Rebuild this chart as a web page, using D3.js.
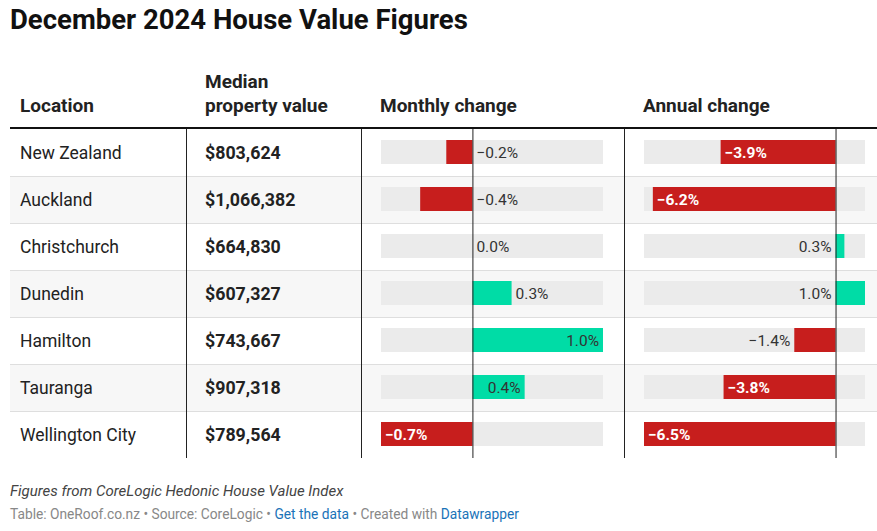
<!DOCTYPE html>
<html><head><meta charset="utf-8">
<script src="https://cdn.jsdelivr.net/npm/d3@7"></script>
<style>
body{margin:0;background:#fff;font-family:Roboto,"Noto Sans",sans-serif;}
svg text{font-family:Roboto,"Noto Sans",sans-serif;}
</style></head><body>
<svg id="c" width="877" height="531"></svg>
<script>
const locations = ["New Zealand","Auckland","Christchurch","Dunedin","Hamilton","Tauranga","Wellington City"];
const medianValues = [803624,1066382,664830,607327,743667,907318,789564];
const monthlyChange = [-0.2,-0.4,0.0,0.3,1.0,0.4,-0.7];
const annualChange = [-3.9,-6.2,0.3,1.0,-1.4,-3.8,-6.5];
const headers = ["Location",["Median","property value"],"Monthly change","Annual change"];

const svg = d3.select("#c");
const W = 877, rowTop = 129, rowH = 47, n = locations.length;
const yRow = d3.scaleBand().domain(d3.range(n)).range([rowTop, rowTop + rowH*n]).padding(0);
const xM = d3.scaleLinear().domain([-0.7, 1.0]).range([381, 603]);
const xA = d3.scaleLinear().domain([-6.5, 1.0]).range([644, 865]);
const fmtPct = v => d3.format(".1f")(v) + "%";
const fmtMoney = d3.format("$,");
const red = "#c71e1d", green = "#00dca6", track = "#ebebeb";

// title
svg.append("text").attr("x",10).attr("y",29).attr("font-size",27.5).attr("font-weight",700).attr("fill","#111")
  .text("December 2024 House Value Figures");

// header
const hg = svg.append("g").attr("font-size",19).attr("font-weight",700).attr("fill","#222");
hg.append("text").attr("x",20).attr("y",112).text(headers[0]);
hg.append("text").attr("x",205).attr("y",88).text(headers[1][0]);
hg.append("text").attr("x",205).attr("y",112).text(headers[1][1]);
hg.append("text").attr("x",380).attr("y",112).text(headers[2]);
hg.append("text").attr("x",643).attr("y",112).text(headers[3]);

// row backgrounds
svg.append("g").selectAll("rect").data(d3.range(n)).join("rect")
  .attr("x",10).attr("width",W-10).attr("y",i=>yRow(i)).attr("height",yRow.bandwidth())
  .attr("fill",i=> i%2 ? "#f7f7f7" : "#fff");
// separators
svg.append("g").selectAll("line").data(d3.range(1,n)).join("line")
  .attr("x1",10).attr("x2",W).attr("y1",i=>yRow(i)+0.5).attr("y2",i=>yRow(i)+0.5)
  .attr("stroke","#dedede");

// text columns
const tg = svg.append("g").attr("font-size",17.5).attr("fill","#222");
tg.selectAll("text.loc").data(locations).join("text").attr("class","loc")
  .attr("x",20).attr("y",(d,i)=>yRow(i)+rowH/2+6).text(d=>d);
tg.selectAll("text.val").data(medianValues).join("text").attr("class","val")
  .attr("x",205).attr("y",(d,i)=>yRow(i)+rowH/2+6).attr("font-weight",700).attr("font-size",17.8).text(d=>fmtMoney(d));

function barColumn(values, x) {
  const g = svg.append("g");
  const [r0, r1] = x.range();
  const x0 = x(0);
  g.selectAll("rect.track").data(values).join("rect").attr("class","track")
    .attr("x",r0).attr("width",r1-r0).attr("y",(d,i)=>yRow(i)+11).attr("height",24).attr("fill",track);
  g.selectAll("rect.bar").data(values).join("rect").attr("class","bar")
    .attr("x",d=>x(Math.min(0,d))).attr("width",d=>Math.abs(x(d)-x0))
    .attr("y",(d,i)=>yRow(i)+11).attr("height",24).attr("fill",d=>d<0?red:green);
  values.forEach((d,i)=>{
    const y = yRow(i)+rowH/2+5.5;
    const t = g.append("text").attr("y",y).attr("font-size",15.5).text(fmtPct(d));
    const neg = d < 0;
    if (neg) t.attr("font-weight",700);
    let w = t.node().getComputedTextLength();
    const barW = Math.abs(x(d)-x0);
    if (w + 12 < barW) {
      t.attr("fill", neg ? "#fff" : "#333");
      if (neg) t.attr("x", x(d)+4).attr("text-anchor","start");
      else t.attr("x", x(d)-4).attr("text-anchor","end");
    } else {
      t.attr("font-weight",400).attr("fill","#333");
      const leftRoom = neg ? x(d) - r0 : x0 - r0;
      const rightRoom = neg ? r1 - x0 : r1 - x(d);
      if (rightRoom >= leftRoom) {
        t.attr("x", (neg ? x0 : x(d)) + 4).attr("text-anchor","start");
      } else {
        t.attr("x", (neg ? x(d) : x0) - 4).attr("text-anchor","end");
      }
    }
  });
  g.append("line").attr("x1",x0+0.5).attr("x2",x0+0.5).attr("y1",rowTop).attr("y2",rowTop+rowH*n)
    .attr("stroke","#222").attr("stroke-width",1);
}
barColumn(monthlyChange, xM);
barColumn(annualChange, xA);

// vertical column dividers
svg.append("g").selectAll("line").data([186,361,624]).join("line")
  .attr("x1",d=>d+0.5).attr("x2",d=>d+0.5).attr("y1",rowTop).attr("y2",rowTop+rowH*n)
  .attr("stroke","#222");
// header rule
svg.append("line").attr("x1",10).attr("x2",W).attr("y1",128).attr("y2",128).attr("stroke","#111").attr("stroke-width",2);

// footer
svg.append("text").attr("x",10).attr("y",496).attr("font-size",15).attr("font-style","italic").attr("fill","#444")
  .text("Figures from CoreLogic Hedonic House Value Index");
const ft = svg.append("text").attr("x",10).attr("y",519).attr("font-size",13.75).attr("fill","#888");
ft.append("tspan").text("Table: OneRoof.co.nz • Source: CoreLogic • ");
ft.append("tspan").attr("fill","#1a73b8").text("Get the data");
ft.append("tspan").text(" • Created with ");
ft.append("tspan").attr("fill","#1a73b8").text("Datawrapper");
</script>
</body></html>
